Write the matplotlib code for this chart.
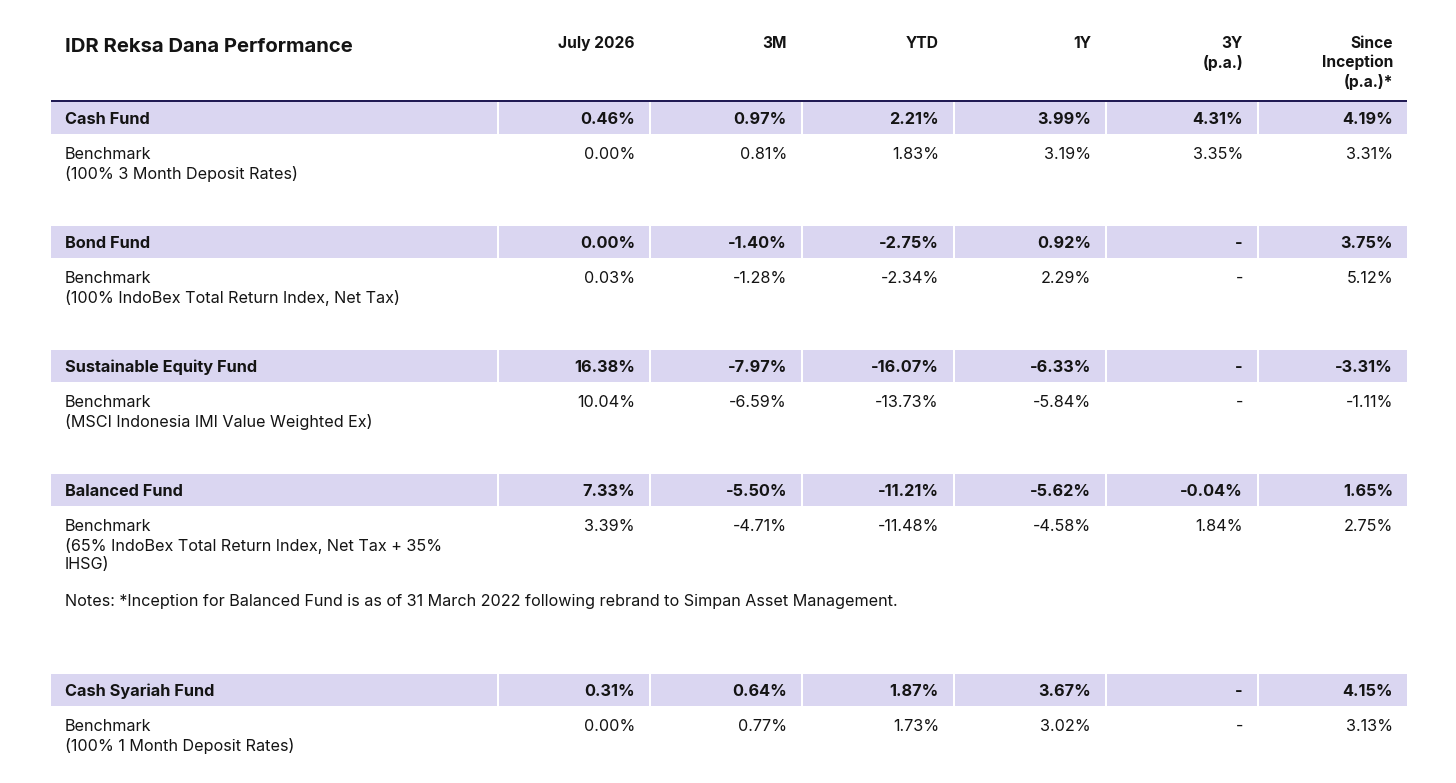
import matplotlib.pyplot as plt
import matplotlib.patches as mpatches

plt.rcParams['font.family'] = ['Inter', 'DejaVu Sans']

title = 'IDR Reksa Dana Performance'
headers = [['July 2026'], ['3M'], ['YTD'], ['1Y'], ['3Y', '(p.a.)'], ['Since', 'Inception', '(p.a.)*']]

funds = ['Cash Fund', 'Bond Fund', 'Sustainable Equity Fund', 'Balanced Fund', 'Cash Syariah Fund']
fund_vals = [
    ['0.46%', '0.97%', '2.21%', '3.99%', '4.31%', '4.19%'],
    ['0.00%', '-1.40%', '-2.75%', '0.92%', '-', '3.75%'],
    ['16.38%', '-7.97%', '-16.07%', '-6.33%', '-', '-3.31%'],
    ['7.33%', '-5.50%', '-11.21%', '-5.62%', '-0.04%', '1.65%'],
    ['0.31%', '0.64%', '1.87%', '3.67%', '-', '4.15%'],
]
bench_labels = [
    ['Benchmark', '(100% 3 Month Deposit Rates)'],
    ['Benchmark', '(100% IndoBex Total Return Index, Net Tax)'],
    ['Benchmark', '(MSCI Indonesia IMI Value Weighted Ex)'],
    ['Benchmark', '(65% IndoBex Total Return Index, Net Tax + 35%', 'IHSG)'],
    ['Benchmark', '(100% 1 Month Deposit Rates)'],
]
bench_vals = [
    ['0.00%', '0.81%', '1.83%', '3.19%', '3.35%', '3.31%'],
    ['0.03%', '-1.28%', '-2.34%', '2.29%', '-', '5.12%'],
    ['10.04%', '-6.59%', '-13.73%', '-5.84%', '-', '-1.11%'],
    ['3.39%', '-4.71%', '-11.48%', '-4.58%', '1.84%', '2.75%'],
    ['0.00%', '0.77%', '1.73%', '3.02%', '-', '3.13%'],
]
note = 'Notes: *Inception for Balanced Fund is as of 31 March 2022 following rebrand to Simpan Asset Management.'

# layout (pixels)
W, H = 1456, 783
col_edges = [51, 497, 649, 801, 953, 1105, 1257, 1407]
band_tops = [102, 226, 350, 474, 674]
band_h = 32
lav = '#DAD6F1'
ink = '#141414'
pad = 14
line_gap = 19.2
fs_b = 11.75
fs = 11.65

fig = plt.figure(figsize=(W / 100, H / 100), dpi=100)
ax = fig.add_axes([0, 0, 1, 1])
ax.set_xlim(0, W)
ax.set_ylim(H, 0)
ax.axis('off')

# header
ax.text(65, 46.5, title, fontsize=14.6, fontweight='bold', color=ink, va='center', ha='left')
for j, hdr in enumerate(headers):
    xr = col_edges[j + 2] - pad
    for k, line in enumerate(hdr):
        ax.text(xr, 43.5 + k * line_gap, line, fontsize=11.2, fontweight='bold',
                color=ink, va='center', ha='right')
ax.plot([col_edges[0], col_edges[-1]], [101, 101], color='#1B1550', lw=1.4, solid_capstyle='butt')

for i, fund in enumerate(funds):
    top = band_tops[i]
    for j in range(len(col_edges) - 1):
        x0 = col_edges[j] + (2 if j > 0 else 0)
        ax.add_patch(mpatches.Rectangle((x0, top), col_edges[j + 1] - x0, band_h,
                                        facecolor=lav, edgecolor='none'))
    yc = top + band_h / 2 + 1.5
    ax.text(65, yc, fund, fontsize=fs_b, fontweight='bold', color=ink, va='center', ha='left')
    for j, v in enumerate(fund_vals[i]):
        ax.text(col_edges[j + 2] - pad, yc, v, fontsize=fs_b, fontweight='bold',
                color=ink, va='center', ha='right')
    yb = top + 52.5
    for k, line in enumerate(bench_labels[i]):
        ax.text(65, yb + k * line_gap, line, fontsize=fs, color=ink, va='center', ha='left')
    for j, v in enumerate(bench_vals[i]):
        ax.text(col_edges[j + 2] - pad, yb, v, fontsize=fs, color=ink, va='center', ha='right')

ax.text(65, 601.5, note, fontsize=fs, color=ink, va='center', ha='left')

fig.savefig('out.png', dpi=100, facecolor='white')
